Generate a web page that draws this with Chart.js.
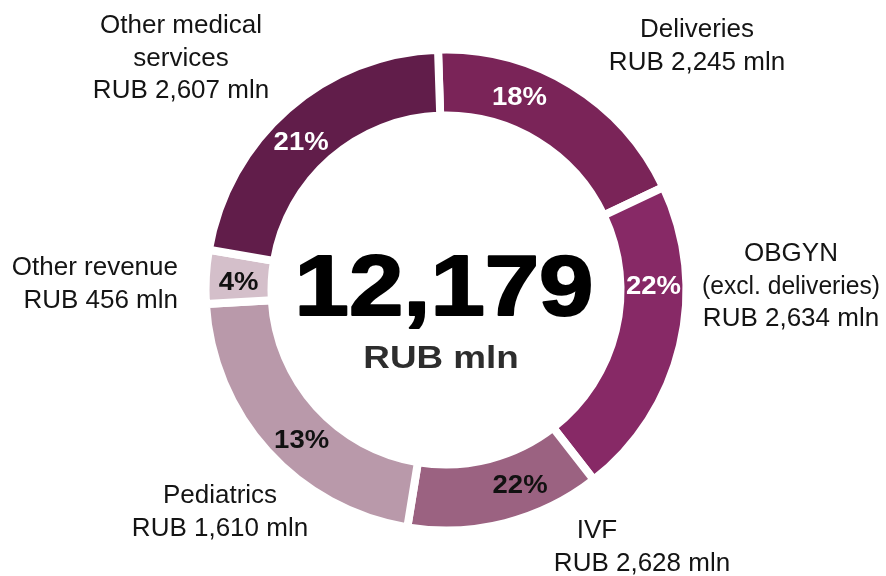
<!DOCTYPE html>
<html>
<head>
<meta charset="utf-8">
<script src="https://cdn.jsdelivr.net/npm/chart.js@4.4.1/dist/chart.umd.min.js"></script>
<style>
  html, body { margin: 0; padding: 0; background: #fff; }
  canvas { display: block; }
</style>
</head>
<body>
<canvas id="revenueChart" width="886" height="576"></canvas>
<script>
// segments in drawing order, clockwise from the top
const segments = ['Deliveries', 'OBGYN (excl. deliveries)', 'IVF', 'Pediatrics', 'Other revenue', 'Other medical services'];
// arc sizes as they are drawn in the picture, % of the ring
const arcShare = [18.5, 21.5, 13.1, 21.5, 3.6, 21.8];
// texts printed on / next to each arc
const pctLabels = ['18%', '22%', '22%', '13%', '4%', '21%'];
const mlnValues = ['2,245', '2,634', '2,628', '1,610', '456', '2,607'];
const nameLines = [['Deliveries'], ['OBGYN', '(excl. deliveries)'], ['IVF'], ['Pediatrics'], ['Other revenue'], ['Other medical', 'services']];
const totalLabel = '12,179';
const unitLabel = 'RUB mln';

const colors = ['#7a2458', '#872966', '#9b6281', '#b999aa', '#d4bfca', '#611d4a'];
const pctColors = ['#fff', '#fff', '#111', '#111', '#111', '#fff'];
// where the % sits along its arc (0 = start, 1 = end)
const pctAt = [0.34, 0.31, 0.36, 0.45, 0.44, 0.46];
// callout anchors, offsets from the ring centre
const calloutSpots = [
    { dx: 251, dy: -253, align: 'center' },
    { dx: 345, dy: -29, align: 'center' },
    { dx: 196, dy: 248, align: 'center', nameShift: -45 },
    { dx: -226, dy: 213, align: 'center' },
    { dx: -268, dy: -15, align: 'right' },
    { dx: -265, dy: -257, align: 'center' }
];

const FONT = '"Liberation Sans", Arial, Helvetica, sans-serif';

function drawWide(ctx, text, x, y, font, sx, stroke) {
    ctx.save();
    ctx.translate(x, y);
    ctx.scale(sx, 1);
    ctx.font = font;
    ctx.textAlign = 'center';
    ctx.textBaseline = 'alphabetic';
    ctx.fillText(text, 0, 0);
    if (stroke) {
        ctx.lineWidth = stroke;
        ctx.lineJoin = 'round';
        ctx.strokeStyle = ctx.fillStyle;
        ctx.strokeText(text, 0, 0);
    }
    ctx.restore();
}

const ringText = {
    id: 'ringText',
    afterDatasetsDraw(chart) {
        const ctx = chart.ctx;
        const arcs = chart.getDatasetMeta(0).data;
        const cx = arcs[0].x, cy = arcs[0].y;
        ctx.save();

        // percentages on the ring
        arcs.forEach((arc, i) => {
            const a = arc.startAngle + pctAt[i] * (arc.endAngle - arc.startAngle);
            const r = (arc.innerRadius + arc.outerRadius) / 2;
            ctx.fillStyle = pctColors[i];
            drawWide(ctx, pctLabels[i], cx + r * Math.cos(a), cy + r * Math.sin(a) + 9, 'bold 25px ' + FONT, 1.1, 0);
        });

        // callouts
        ctx.fillStyle = '#141414';
        ctx.font = '26px ' + FONT;
        ctx.textBaseline = 'alphabetic';
        calloutSpots.forEach((s, i) => {
            const lines = nameLines[i].concat('RUB ' + mlnValues[i] + ' mln');
            ctx.textAlign = s.align;
            lines.forEach((t, k) => {
                const shift = k < nameLines[i].length ? (s.nameShift || 0) : 0;
                ctx.fillText(t, cx + s.dx + shift, cy + s.dy + k * 32.5, 178);
            });
        });

        // total in the hole
        ctx.fillStyle = '#000';
        drawWide(ctx, totalLabel, cx - 2, cy + 25, 'bold 85px ' + FONT, 1.15, 2);
        ctx.fillStyle = '#2d2d2d';
        drawWide(ctx, unitLabel, cx - 5, cy + 78, 'bold 32px ' + FONT, 1.15, 0);

        ctx.restore();
    }
};

new Chart(document.getElementById('revenueChart'), {
    type: 'doughnut',
    data: {
        labels: segments,
        datasets: [{
            data: arcShare,
            backgroundColor: colors,
            borderColor: '#fff',
            borderWidth: 8,
            borderJoinStyle: 'miter',
            hoverOffset: 0
        }]
    },
    options: {
        responsive: false,
        animation: false,
        events: [],
        rotation: -1.9,
        radius: 240.5,
        cutout: '72.56%',
        layout: { padding: { left: 6, right: 0, top: 40, bottom: 36 } },
        plugins: {
            legend: { display: false },
            tooltip: { enabled: false }
        }
    },
    plugins: [ringText]
});
</script>
</body>
</html>
